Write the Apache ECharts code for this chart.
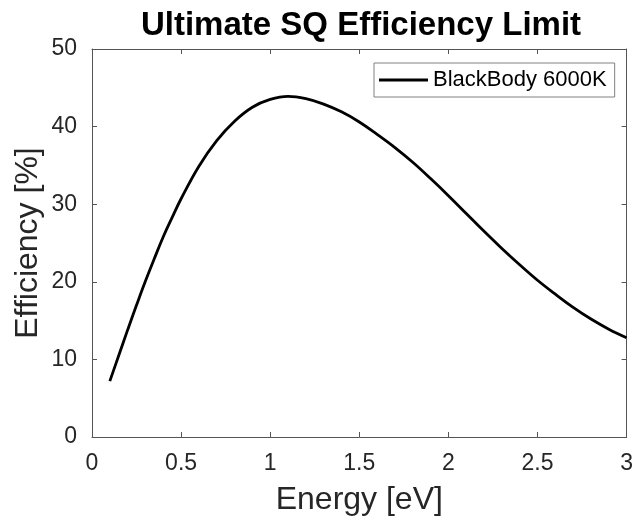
<!DOCTYPE html>
<html>
<head>
<meta charset="utf-8">
<script src="https://cdn.jsdelivr.net/npm/echarts@6/dist/echarts.min.js"></script>
<style>
  html, body { margin: 0; padding: 0; background: #fff; }
  #chart { width: 636px; height: 527px; }
</style>
</head>
<body>
<div id="chart"></div>
<script>
// Band-gap energy in eV
const energy = [0.10, 0.15, 0.20, 0.25, 0.30, 0.35, 0.40, 0.45, 0.50, 0.60,
                0.70, 0.80, 0.90, 1.00, 1.10, 1.20, 1.30, 1.40, 1.50, 1.60,
                1.70, 1.80, 1.90, 2.00, 2.10, 2.20, 2.30, 2.40, 2.50, 2.60,
                2.70, 2.80, 2.90, 3.00];
// Ultimate efficiency in percent for a 6000 K blackbody
const efficiency = [7.2, 10.5, 13.8, 17.0, 20.1, 23.0, 25.8, 28.3, 30.7, 34.9,
                    38.2, 40.7, 42.5, 43.5, 43.9, 43.6, 42.9, 41.9, 40.6, 39.0,
                    37.3, 35.4, 33.3, 31.1, 28.8, 26.5, 24.3, 22.2, 20.2, 18.4,
                    16.7, 15.2, 13.9, 12.8];
const seriesName = 'BlackBody 6000K';
const xTicks = { min: 0, max: 3, interval: 0.5 };
const yTicks = { min: 0, max: 50, interval: 10 };

const points = energy.map((e, i) => [e, efficiency[i]]);

const FONT = '"Liberation Sans", Arial, sans-serif';
const AXIS_COLOR = '#555';
const TEXT_COLOR = '#262626';

function boxAxis(base, position, showLabel) {
  return Object.assign({
    type: 'value',
    position: position,
    axisLine: { show: true, onZero: false, lineStyle: { color: AXIS_COLOR, width: 1 } },
    axisTick: { show: true, inside: true, length: 5, lineStyle: { color: AXIS_COLOR } },
    axisLabel: {
      show: showLabel, margin: 15, color: TEXT_COLOR,
      fontFamily: FONT, fontSize: 23
    },
    splitLine: { show: false }
  }, base);
}

const chart = echarts.init(document.getElementById('chart'), null, { renderer: 'canvas' });
chart.setOption({
  animation: false,
  backgroundColor: '#fff',
  title: {
    text: 'Ultimate SQ Efficiency Limit',
    left: 356,
    top: 4,
    textAlign: 'center',
    textStyle: { fontFamily: FONT, fontSize: 33, fontWeight: 'bold', color: '#000' }
  },
  grid: { left: 92, right: 9, top: 49, bottom: 90, containLabel: false },
  legend: {
    left: 374,
    top: 63,
    padding: [6, 8, 6, 5],
    itemWidth: 49,
    itemHeight: 3,
    itemGap: 5,
    borderColor: '#808080',
    borderWidth: 1,
    backgroundColor: '#fff',
    itemStyle: { color: '#000' },
    textStyle: { fontFamily: FONT, fontSize: 22, color: '#000', lineHeight: 21 },
    data: [{ name: seriesName, icon: 'rect' }]
  },
  xAxis: [
    boxAxis(Object.assign({
      name: 'Energy [eV]',
      nameLocation: 'middle',
      nameGap: 47,
      nameMoveOverlap: false,
      nameTextStyle: { fontFamily: FONT, fontSize: 32, color: TEXT_COLOR }
    }, xTicks), 'bottom', true),
    boxAxis(Object.assign({}, xTicks), 'top', false)
  ],
  yAxis: [
    boxAxis(Object.assign({
      name: 'Efficiency [%]',
      nameLocation: 'middle',
      nameGap: 48,
      nameMoveOverlap: false,
      nameTextStyle: { fontFamily: FONT, fontSize: 32, color: TEXT_COLOR }
    }, yTicks), 'left', true),
    boxAxis(Object.assign({}, yTicks), 'right', false)
  ],
  series: [{
    name: seriesName,
    type: 'line',
    xAxisIndex: 0,
    yAxisIndex: 0,
    data: points,
    smooth: 0.4,
    symbol: 'none',
    lineStyle: { color: '#000', width: 2.8 },
    itemStyle: { color: '#000' }
  }]
});
</script>
</body>
</html>
